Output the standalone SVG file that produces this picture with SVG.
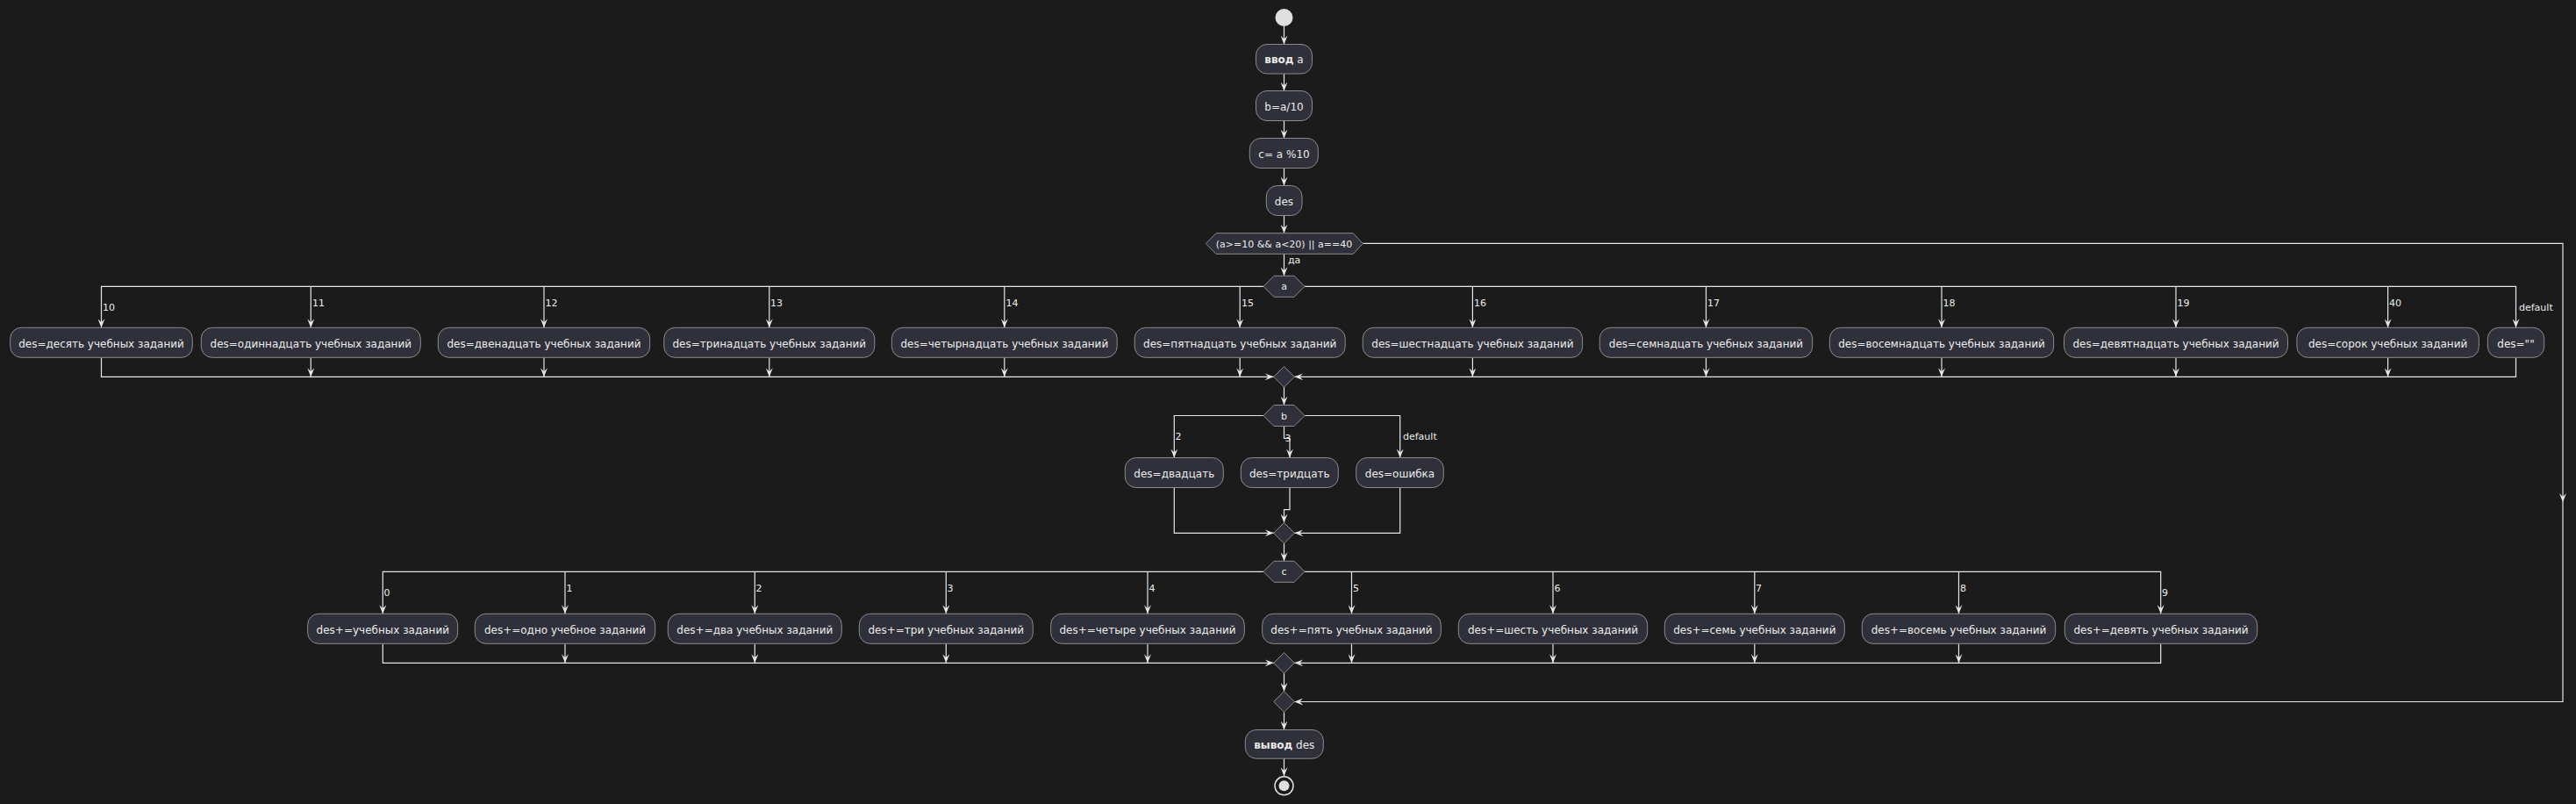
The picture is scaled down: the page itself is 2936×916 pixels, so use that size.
<svg xmlns="http://www.w3.org/2000/svg" width="2936" height="916" viewBox="0 0 2936 916">
<defs>
<marker id="ah" markerWidth="10" markerHeight="8" refX="10" refY="4" orient="auto" markerUnits="userSpaceOnUse" viewBox="0 0 10 8"><path d="M0,0 L10,4 L0,8 L4,4 Z" fill="#e6e6e6"/></marker>
<style>
.act rect,.shape{fill:#2f3039;stroke:#8c8c8c;stroke-width:1}
.t{font-family:"DejaVu Sans","Noto Sans",sans-serif;font-size:12px;fill:#ececec;text-anchor:middle}
.h{font-family:"DejaVu Sans","Noto Sans",sans-serif;font-size:11px;fill:#ececec;text-anchor:middle}
.lbl{font-family:"DejaVu Sans","Noto Sans",sans-serif;font-size:11px;fill:#ececec}
.ln{fill:none;stroke:#e6e6e6;stroke-width:1.2;marker-end:url(#ah)}
.ln0{fill:none;stroke:#e6e6e6;stroke-width:1.2}
</style>
</defs>
<rect x="0" y="0" width="2936" height="916" fill="#1b1b1b"/>

<g id="connectors">
<path class="ln" d="M1463.5,30 V50.5"/>
<path class="ln" d="M1463.5,84 V103.5"/>
<path class="ln" d="M1463.5,137.5 V157.5"/>
<path class="ln" d="M1463.5,191.5 V211.5"/>
<path class="ln" d="M1463.5,245.5 V265.7"/>
<path class="ln" d="M1463.5,289.3 V314.3"/>
<text class="lbl" x="1468" y="300">да</text>
<!-- condition no-branch -->
<path class="ln" d="M1553.3,277.3 H2921 V572"/>
<path class="ln" d="M2921,572 V799.5 H1475.2"/>
<!-- switch a -->
<path class="ln" d="M1440,326.3 H115.5 V373.3"/>
<path class="ln" d="M1487,326.3 H2867.5 V373.3"/>
<path class="ln" d="M354.3,326.3 V373.3"/>
<path class="ln" d="M620,326.3 V373.3"/>
<path class="ln" d="M876.8,326.3 V373.3"/>
<path class="ln" d="M1144.8,326.3 V373.3"/>
<path class="ln" d="M1413.2,326.3 V373.3"/>
<path class="ln" d="M1678.4,326.3 V373.3"/>
<path class="ln" d="M1944.5,326.3 V373.3"/>
<path class="ln" d="M2213,326.3 V373.3"/>
<path class="ln" d="M2480,326.3 V373.3"/>
<path class="ln" d="M2721.6,326.3 V373.3"/>
<text class="lbl" x="117" y="354">10</text>
<text class="lbl" x="356" y="349">11</text>
<text class="lbl" x="621.5" y="349">12</text>
<text class="lbl" x="878" y="349">13</text>
<text class="lbl" x="1146.5" y="349">14</text>
<text class="lbl" x="1415" y="349">15</text>
<text class="lbl" x="1680" y="349">16</text>
<text class="lbl" x="1946" y="349">17</text>
<text class="lbl" x="2214.5" y="349">18</text>
<text class="lbl" x="2481.5" y="349">19</text>
<text class="lbl" x="2723" y="349">40</text>
<text class="lbl" x="2871" y="354">default</text>
<path class="ln" d="M115.5,407.3 V429.3 H1451.7"/>
<path class="ln" d="M2867.5,407.3 V429.3 H1475.3"/>
<path class="ln" d="M354.3,407.3 V429.3"/>
<path class="ln" d="M620,407.3 V429.3"/>
<path class="ln" d="M876.8,407.3 V429.3"/>
<path class="ln" d="M1144.8,407.3 V429.3"/>
<path class="ln" d="M1413.2,407.3 V429.3"/>
<path class="ln" d="M1678.4,407.3 V429.3"/>
<path class="ln" d="M1944.5,407.3 V429.3"/>
<path class="ln" d="M2213,407.3 V429.3"/>
<path class="ln" d="M2480,407.3 V429.3"/>
<path class="ln" d="M2721.6,407.3 V429.3"/>
<path class="ln" d="M1463.5,441.1 V461.5"/>
<!-- switch b -->
<path class="ln" d="M1440,473.5 H1338.3 V521.5"/>
<path class="ln" d="M1463.5,485.5 V499.3 H1470 V521.5"/>
<path class="ln" d="M1487,473.5 H1595.7 V521.5"/>
<text class="lbl" x="1339.5" y="501">2</text>
<text class="lbl" x="1464.5" y="503">3</text>
<text class="lbl" x="1599" y="501">default</text>
<path class="ln" d="M1338.3,555.5 V607.3 H1451.7"/>
<path class="ln" d="M1595.7,555.5 V607.3 H1475.3"/>
<path class="ln" d="M1470,555.5 V580.7 H1463.5 V595.5"/>
<path class="ln" d="M1463.5,619.1 V639.3"/>
<!-- switch c -->
<path class="ln" d="M1440,651.3 H436.3 V699.3"/>
<path class="ln" d="M1487,651.3 H2462.7 V699.3"/>
<path class="ln" d="M644,651.3 V699.3"/>
<path class="ln" d="M860.3,651.3 V699.3"/>
<path class="ln" d="M1078.3,651.3 V699.3"/>
<path class="ln" d="M1308,651.3 V699.3"/>
<path class="ln" d="M1540.5,651.3 V699.3"/>
<path class="ln" d="M1770,651.3 V699.3"/>
<path class="ln" d="M1999.8,651.3 V699.3"/>
<path class="ln" d="M2232.5,651.3 V699.3"/>
<text class="lbl" x="437.5" y="679">0</text>
<text class="lbl" x="645.5" y="674">1</text>
<text class="lbl" x="861.5" y="674">2</text>
<text class="lbl" x="1079.5" y="674">3</text>
<text class="lbl" x="1309.5" y="674">4</text>
<text class="lbl" x="1542" y="674">5</text>
<text class="lbl" x="1771.5" y="674">6</text>
<text class="lbl" x="2001" y="674">7</text>
<text class="lbl" x="2234" y="674">8</text>
<text class="lbl" x="2464" y="679">9</text>
<path class="ln" d="M436.3,733.3 V755.3 H1451.7"/>
<path class="ln" d="M2462.7,733.3 V755.3 H1475.3"/>
<path class="ln" d="M644,733.3 V755.3"/>
<path class="ln" d="M860.3,733.3 V755.3"/>
<path class="ln" d="M1078.3,733.3 V755.3"/>
<path class="ln" d="M1308,733.3 V755.3"/>
<path class="ln" d="M1540.5,733.3 V755.3"/>
<path class="ln" d="M1770,733.3 V755.3"/>
<path class="ln" d="M1999.8,733.3 V755.3"/>
<path class="ln" d="M2232.5,733.3 V755.3"/>
<path class="ln" d="M1463.5,767.1 V787.7"/>
<path class="ln" d="M1463.5,811.3 V831.5"/>
<path class="ln" d="M1463.5,864.2 V884.3"/>
</g>

<g id="start"><circle cx="1463.5" cy="20" r="10" fill="#e0e0e0"/></g>
<g id="input" class="act"><rect x="1431.5" y="50.5" width="64" height="33.5" rx="12.5"/><text class="t" x="1463.5" y="72"><tspan font-weight="bold">ввод</tspan> a</text></g>
<g id="calc_b" class="act"><rect x="1431.5" y="103.5" width="64" height="34" rx="12.5"/><text class="t" x="1463.5" y="125.5">b=a/10</text></g>
<g id="calc_c" class="act"><rect x="1424.3" y="157.5" width="78" height="34" rx="12.5"/><text class="t" x="1463.5" y="179.5">c= a %10</text></g>
<g id="des" class="act"><rect x="1443.3" y="211.5" width="40.7" height="34" rx="12.5"/><text class="t" x="1463.5" y="233.5">des</text></g>
<g id="cond"><polygon class="shape" points="1374.3,277.5 1386,265.7 1542.3,265.7 1553.3,277.5 1542.3,289.3 1386,289.3"/><text class="h" x="1463.5" y="281.5">(a&gt;=10 &amp;&amp; a&lt;20) || a==40</text></g>
<g id="switch_a"><polygon class="shape" points="1440,326.3 1452,314.3 1475,314.3 1487,326.3 1475,338.3 1452,338.3"/><text class="h" x="1463.5" y="330.3">a</text></g>

<g id="a10" class="act"><rect x="11.7" y="373.3" width="207.6" height="34" rx="12.5"/><text class="t" x="115.5" y="395.5">des=десять учебных заданий</text></g>
<g id="a11" class="act"><rect x="229.3" y="373.3" width="250" height="34" rx="12.5"/><text class="t" x="354.3" y="395.5">des=одиннадцать учебных заданий</text></g>
<g id="a12" class="act"><rect x="499.3" y="373.3" width="241.4" height="34" rx="12.5"/><text class="t" x="620" y="395.5">des=двенадцать учебных заданий</text></g>
<g id="a13" class="act"><rect x="756.8" y="373.3" width="240" height="34" rx="12.5"/><text class="t" x="876.8" y="395.5">des=тринадцать учебных заданий</text></g>
<g id="a14" class="act"><rect x="1016.4" y="373.3" width="256.8" height="34" rx="12.5"/><text class="t" x="1144.8" y="395.5">des=четырнадцать учебных заданий</text></g>
<g id="a15" class="act"><rect x="1293.2" y="373.3" width="240" height="34" rx="12.5"/><text class="t" x="1413.2" y="395.5">des=пятнадцать учебных заданий</text></g>
<g id="a16" class="act"><rect x="1553.2" y="373.3" width="250.4" height="34" rx="12.5"/><text class="t" x="1678.4" y="395.5">des=шестнадцать учебных заданий</text></g>
<g id="a17" class="act"><rect x="1823.2" y="373.3" width="242.5" height="34" rx="12.5"/><text class="t" x="1944.5" y="395.5">des=семнадцать учебных заданий</text></g>
<g id="a18" class="act"><rect x="2085.4" y="373.3" width="255.3" height="34" rx="12.5"/><text class="t" x="2213" y="395.5">des=восемнадцать учебных заданий</text></g>
<g id="a19" class="act"><rect x="2352.5" y="373.3" width="255" height="34" rx="12.5"/><text class="t" x="2480" y="395.5">des=девятнадцать учебных заданий</text></g>
<g id="a40" class="act"><rect x="2617.9" y="373.3" width="207.5" height="34" rx="12.5"/><text class="t" x="2721.6" y="395.5">des=сорок учебных заданий</text></g>
<g id="adef" class="act"><rect x="2835.4" y="373.3" width="64.3" height="34" rx="12.5"/><text class="t" x="2867.5" y="395.5">des=""</text></g>
<g id="merge_a"><polygon class="shape" points="1463.5,417.5 1475.3,429.3 1463.5,441.1 1451.7,429.3"/></g>

<g id="switch_b"><polygon class="shape" points="1440,473.5 1452,461.5 1475,461.5 1487,473.5 1475,485.5 1452,485.5"/><text class="h" x="1463.5" y="477.5">b</text></g>
<g id="b2" class="act"><rect x="1282.3" y="521.5" width="112" height="34" rx="12.5"/><text class="t" x="1338.3" y="543.5">des=двадцать</text></g>
<g id="b3" class="act"><rect x="1414.3" y="521.5" width="111" height="34" rx="12.5"/><text class="t" x="1469.8" y="543.5">des=тридцать</text></g>
<g id="bdef" class="act"><rect x="1545.7" y="521.5" width="99.6" height="34" rx="12.5"/><text class="t" x="1595.5" y="543.5">des=ошибка</text></g>
<g id="merge_b"><polygon class="shape" points="1463.5,595.5 1475.3,607.3 1463.5,619.1 1451.7,607.3"/></g>

<g id="switch_c"><polygon class="shape" points="1440,651.3 1452,639.3 1475,639.3 1487,651.3 1475,663.3 1452,663.3"/><text class="h" x="1463.5" y="655.3">c</text></g>
<g id="c0" class="act"><rect x="350.7" y="699.3" width="171" height="34" rx="12.5"/><text class="t" x="436.3" y="721.5">des+=учебных заданий</text></g>
<g id="c1" class="act"><rect x="541.3" y="699.3" width="205.4" height="34" rx="12.5"/><text class="t" x="644" y="721.5">des+=одно учебное заданий</text></g>
<g id="c2" class="act"><rect x="761.3" y="699.3" width="198" height="34" rx="12.5"/><text class="t" x="860.3" y="721.5">des+=два учебных заданий</text></g>
<g id="c3" class="act"><rect x="979.3" y="699.3" width="198" height="34" rx="12.5"/><text class="t" x="1078.3" y="721.5">des+=три учебных заданий</text></g>
<g id="c4" class="act"><rect x="1197.7" y="699.3" width="220.6" height="34" rx="12.5"/><text class="t" x="1308" y="721.5">des+=четыре учебных заданий</text></g>
<g id="c5" class="act"><rect x="1438.7" y="699.3" width="203.6" height="34" rx="12.5"/><text class="t" x="1540.5" y="721.5">des+=пять учебных заданий</text></g>
<g id="c6" class="act"><rect x="1662.3" y="699.3" width="215.4" height="34" rx="12.5"/><text class="t" x="1770" y="721.5">des+=шесть учебных заданий</text></g>
<g id="c7" class="act"><rect x="1897.3" y="699.3" width="205" height="34" rx="12.5"/><text class="t" x="1999.8" y="721.5">des+=семь учебных заданий</text></g>
<g id="c8" class="act"><rect x="2122.3" y="699.3" width="220.4" height="34" rx="12.5"/><text class="t" x="2232.5" y="721.5">des+=восемь учебных заданий</text></g>
<g id="c9" class="act"><rect x="2353.3" y="699.3" width="219.4" height="34" rx="12.5"/><text class="t" x="2463" y="721.5">des+=девять учебных заданий</text></g>
<g id="merge_c"><polygon class="shape" points="1463.5,743.5 1475.3,755.3 1463.5,767.1 1451.7,755.3"/></g>
<g id="merge_if"><polygon class="shape" points="1463.5,787.7 1475.3,799.5 1463.5,811.3 1451.7,799.5"/></g>

<g id="output" class="act"><rect x="1419.3" y="831.5" width="89" height="32.7" rx="12.5"/><text class="t" x="1463.8" y="852.8"><tspan font-weight="bold">вывод</tspan> des</text></g>
<g id="end"><circle cx="1463.5" cy="895.3" r="10.5" fill="none" stroke="#e0e0e0" stroke-width="1.5"/><circle cx="1463.5" cy="895.3" r="6" fill="#e0e0e0"/></g>
</svg>
